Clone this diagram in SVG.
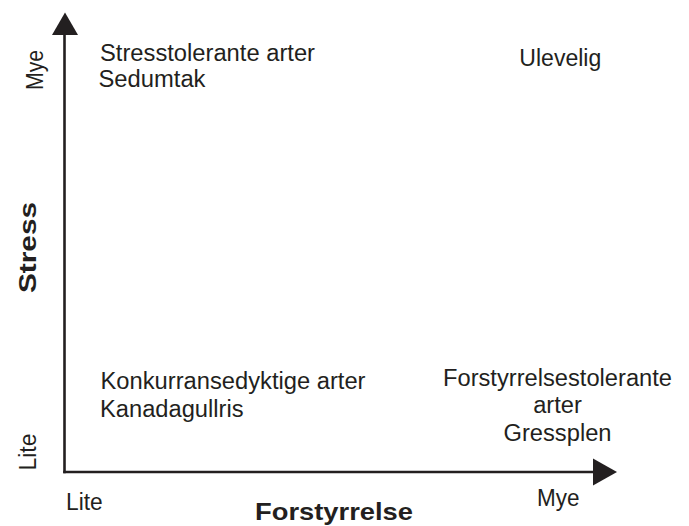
<svg xmlns="http://www.w3.org/2000/svg" width="689" height="526" viewBox="0 0 689 526">
<style>
  text { font-family: "Liberation Sans", Arial, Helvetica, sans-serif; fill: #231f20; }
  .t { font-size: 23px; }
  .ax { font-size: 23px; }
  .b { font-weight: bold; }
  .axis { stroke: #231f20; stroke-width: 2.6; fill: none; }
  .head { fill: #231f20; }
</style>
<rect width="689" height="526" fill="#ffffff"/>
<g id="connectors">
  <line class="axis" x1="64.5" y1="33" x2="64.5" y2="473.3"/>
  <polygon class="head" points="65,12.5 78,35 52,35"/>
  <line class="axis" x1="63.2" y1="472" x2="595" y2="472"/>
  <polygon class="head" points="617,472 593,458.5 593,485.5"/>
</g>
<g id="axis-labels">
  <text class="ax b" transform="translate(36,247.5) rotate(-90)" text-anchor="middle" font-size="27" textLength="91" lengthAdjust="spacingAndGlyphs">Stress</text>
  <text class="ax" transform="translate(43,70) rotate(-90)" text-anchor="middle" textLength="40" lengthAdjust="spacingAndGlyphs">Mye</text>
  <text class="ax" transform="translate(35.5,452) rotate(-90)" text-anchor="middle" textLength="37" lengthAdjust="spacingAndGlyphs">Lite</text>
  <text class="ax" x="66" y="509.5" textLength="36.7" lengthAdjust="spacingAndGlyphs">Lite</text>
  <text class="ax" x="537" y="506" textLength="42.5" lengthAdjust="spacingAndGlyphs">Mye</text>
  <text class="b" x="334" y="519.5" text-anchor="middle" font-size="24" textLength="158" lengthAdjust="spacingAndGlyphs">Forstyrrelse</text>
</g>
<g id="stresstolerante">
  <text class="t" x="100" y="61" textLength="215" lengthAdjust="spacingAndGlyphs">Stresstolerante arter</text>
  <text class="t" x="98.5" y="86.5" textLength="107" lengthAdjust="spacingAndGlyphs">Sedumtak</text>
</g>
<g id="ulevelig">
  <text class="t" x="519.3" y="66" textLength="82" lengthAdjust="spacingAndGlyphs">Ulevelig</text>
</g>
<g id="konkurranse">
  <text class="t" x="100.5" y="389.3" textLength="265" lengthAdjust="spacingAndGlyphs">Konkurransedyktige arter</text>
  <text class="t" x="100" y="416.5" textLength="143.5" lengthAdjust="spacingAndGlyphs">Kanadagullris</text>
</g>
<g id="forstyrrelsestolerante">
  <text class="t" x="557.5" y="385.5" text-anchor="middle" textLength="229" lengthAdjust="spacingAndGlyphs">Forstyrrelsestolerante</text>
  <text class="t" x="557.5" y="413.3" text-anchor="middle" textLength="48.7" lengthAdjust="spacingAndGlyphs">arter</text>
  <text class="t" x="557.5" y="440.7" text-anchor="middle" textLength="108" lengthAdjust="spacingAndGlyphs">Gressplen</text>
</g>
</svg>
